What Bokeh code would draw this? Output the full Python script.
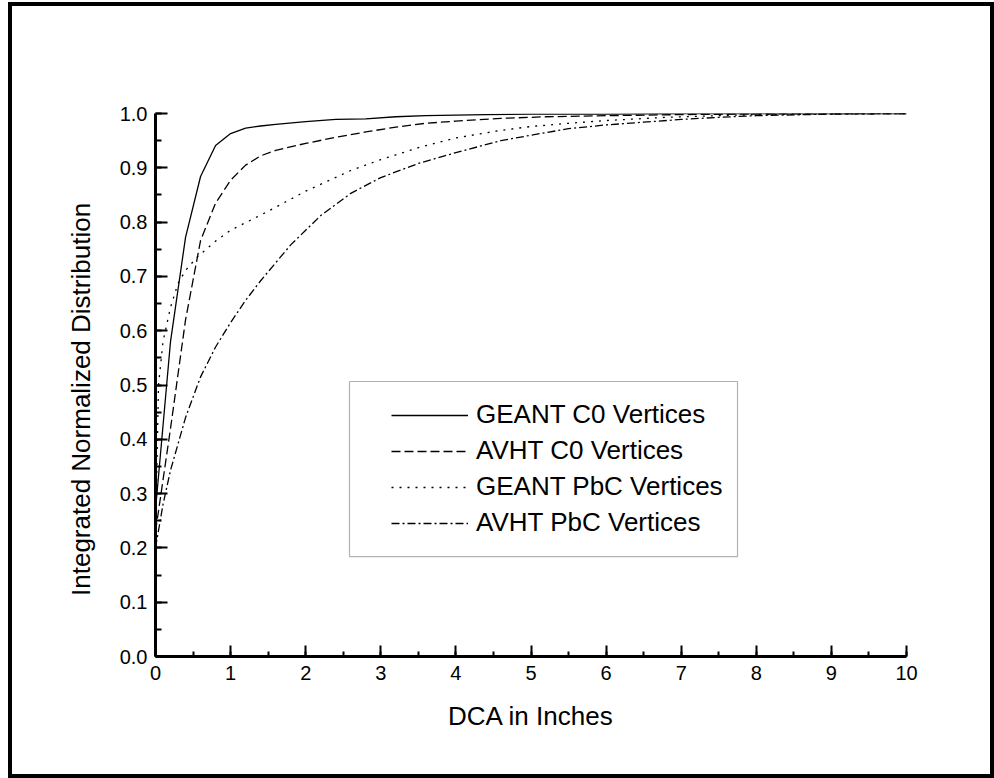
from bokeh.plotting import figure
from bokeh.models import (Range1d, SingleIntervalTicker, PrintfTickFormatter,
                          Legend, LegendItem, BoxAnnotation)
from bokeh.embed import file_html
from bokeh.resources import INLINE

FONT = "Liberation Sans"

# ---- data ----
geant_c0_x = [0, 0.2, 0.4, 0.6, 0.8, 1.0, 1.2, 1.4, 1.6, 2.0, 2.4, 2.8, 3.2, 3.6,
              4.0, 4.4, 5.0, 6.0, 7.0, 8.0, 9.0, 10.0]
geant_c0_y = [0.27, 0.58, 0.772, 0.884, 0.941, 0.963, 0.973, 0.977, 0.980, 0.985,
              0.989, 0.990, 0.994, 0.996, 0.997, 0.998, 0.999, 0.999, 1.0, 1.0, 1.0, 1.0]

avht_c0_x = [0, 0.2, 0.4, 0.6, 0.8, 1.0, 1.2, 1.4, 1.6, 2.0, 2.4, 2.8, 3.2, 3.6,
             4.0, 4.6, 5.2, 6.0, 7.0, 8.0, 10.0]
avht_c0_y = [0.23, 0.42, 0.62, 0.766, 0.835, 0.877, 0.905, 0.922, 0.932, 0.945,
             0.956, 0.966, 0.975, 0.982, 0.986, 0.991, 0.994, 0.996, 0.998, 0.999, 1.0]

geant_pbc_x = [0, 0.04, 0.1, 0.2, 0.3, 0.4, 0.55, 0.8, 1.0, 1.5, 2.0, 2.6, 3.0, 3.5,
               4.0, 4.6, 5.0, 5.5, 6.0, 6.8, 7.5, 8.0, 9.0, 10.0]
geant_pbc_y = [0.22, 0.50, 0.58, 0.643, 0.687, 0.711, 0.735, 0.765, 0.785, 0.82,
               0.857, 0.895, 0.915, 0.937, 0.955, 0.969, 0.976, 0.982, 0.987, 0.993,
               0.996, 0.998, 0.999, 1.0]

avht_pbc_x = [0, 0.1, 0.2, 0.4, 0.6, 0.8, 1.0, 1.2, 1.4, 1.6, 1.8, 2.0, 2.2, 2.6,
              3.0, 3.5, 4.0, 4.6, 5.0, 5.5, 6.0, 6.5, 7.0, 7.5, 8.0, 9.0, 10.0]
avht_pbc_y = [0.20, 0.28, 0.343, 0.44, 0.515, 0.57, 0.615, 0.656, 0.692, 0.725,
              0.758, 0.785, 0.812, 0.853, 0.882, 0.908, 0.928, 0.95, 0.96, 0.972,
              0.979, 0.984, 0.989, 0.993, 0.996, 0.999, 1.0]

series_names = ["GEANT C0 Vertices", "AVHT C0 Vertices",
                "GEANT PbC Vertices", "AVHT PbC Vertices"]
x_label = "DCA in Inches"
y_label = "Integrated Normalized Distribution"

p = figure(width=986, height=776, output_backend="svg", toolbar_location=None,
           x_range=Range1d(0, 10), y_range=Range1d(0, 1),
           min_border_left=147, min_border_right=88,
           min_border_top=111, min_border_bottom=122)
p.margin = (2, 0, 0, 8)
p.styles = {"outline": "4px solid black", "outline-offset": "-4px"}
p.grid.visible = False
p.outline_line_color = None
p.background_fill_color = "white"
p.border_fill_alpha = 0

for ax in (p.xaxis[0], p.yaxis[0]):
    ax.axis_line_width = 3
    ax.axis_line_color = "black"
    ax.major_tick_line_width = 2
    ax.minor_tick_line_width = 2
    ax.major_tick_line_color = "black"
    ax.minor_tick_line_color = "black"
    ax.major_tick_out = 0
    ax.minor_tick_out = 0
    ax.major_label_text_font = FONT
    ax.major_label_text_font_size = "20px"
    ax.major_label_text_color = "black"
    ax.axis_label_text_font = FONT
    ax.axis_label_text_font_style = "normal"
    ax.axis_label_text_color = "black"

xa = p.xaxis[0]
xa.ticker = SingleIntervalTicker(interval=1, num_minor_ticks=2)
xa.major_tick_in = 11
xa.minor_tick_in = 5
xa.major_label_standoff = 9
xa.axis_label = x_label
xa.axis_label_text_font_size = "26px"
xa.axis_label_standoff = 18

ya = p.yaxis[0]
ya.ticker = SingleIntervalTicker(interval=0.1, num_minor_ticks=2)
ya.formatter = PrintfTickFormatter(format="%.1f")
ya.major_tick_in = 12
ya.minor_tick_in = 6
ya.major_label_standoff = 8
# trailing no-break spaces move the label toward the bottom, as in the original
ya.axis_label = y_label + "\u00a0" * 4
ya.axis_label_text_font_size = "26px"
ya.axis_label_standoff = 21

r1 = p.line(geant_c0_x, geant_c0_y, line_color="black", line_width=1.3)
r2 = p.line(avht_c0_x, avht_c0_y, line_color="black", line_width=1.3, line_dash="9 4")
r3 = p.line(geant_pbc_x, geant_pbc_y, line_color="black", line_width=1.3, line_dash="2 6")
r4 = p.line(avht_pbc_x, avht_pbc_y, line_color="black", line_width=1.3, line_dash="8 3 2 3")

legend = Legend(items=[LegendItem(label=n, renderers=[r]) for n, r in
                       zip(series_names, [r1, r2, r3, r4])],
                location=(236, 118), margin=0, padding=0, spacing=5,
                glyph_width=77, glyph_height=30, label_height=30, label_standoff=8,
                label_text_font=FONT, label_text_font_size="26px",
                label_text_color="black",
                border_line_color=None, background_fill_alpha=0)
p.add_layout(legend)

# legend frame
p.add_layout(BoxAnnotation(left=2.583, right=7.75, top=0.5064, bottom=0.184,
                           fill_alpha=0, line_color="black", line_width=1.2))

open("out.html", "w").write(file_html(p, INLINE))
